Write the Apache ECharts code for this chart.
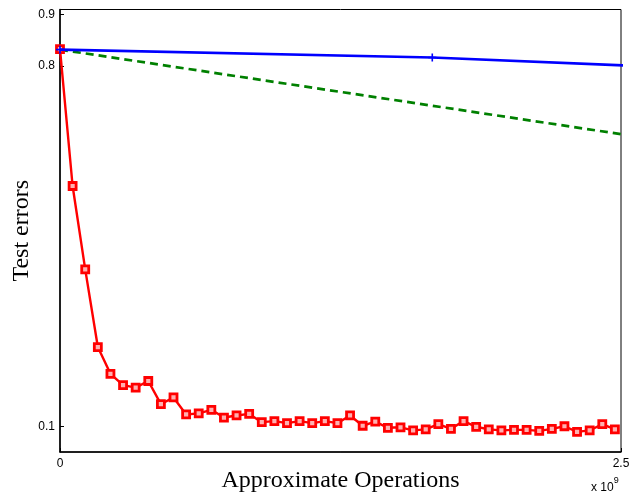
<!DOCTYPE html>
<html>
<head>
<meta charset="utf-8">
<script src="https://cdn.jsdelivr.net/npm/echarts@6/dist/echarts.min.js"></script>
<style>html,body{margin:0;padding:0;background:#fff}#c{width:629px;height:495px}</style>
</head>
<body>
<div id="c"></div>
<script>
// x in units of 1e9 operations
const redX = [0, 0.0562, 0.1124, 0.1686, 0.2248, 0.2810, 0.3372, 0.3934, 0.4496, 0.5058,
  0.5620, 0.6182, 0.6744, 0.7306, 0.7868, 0.8430, 0.8992, 0.9554, 1.0116, 1.0678,
  1.1240, 1.1802, 1.2364, 1.2926, 1.3488, 1.4050, 1.4612, 1.5174, 1.5736, 1.6298,
  1.6860, 1.7422, 1.7984, 1.8546, 1.9108, 1.9670, 2.0232, 2.0794, 2.1356, 2.1918,
  2.2480, 2.3042, 2.3604, 2.4166, 2.4728];
const redY = [0.833, 0.567, 0.405, 0.254, 0.202, 0.180, 0.175, 0.188, 0.143, 0.156,
  0.123, 0.125, 0.132, 0.117, 0.121, 0.124, 0.108, 0.110, 0.106, 0.110,
  0.106, 0.110, 0.106, 0.121, 0.101, 0.109, 0.097, 0.098, 0.092, 0.094,
  0.104, 0.095, 0.110, 0.099, 0.094, 0.092, 0.093, 0.093, 0.091, 0.095,
  0.100, 0.089, 0.092, 0.104, 0.094];
const blueX = [0, 1.659, 3.318];
const blueY = [0.832, 0.8168, 0.7866];
const greenX = [0, 2.5];
const greenY = [0.832, 0.6677];
const yTicks = [0.1, 0.8, 0.9];
const xTicks = [0, 2.5];

const zip = (xs, ys) => xs.map((x, i) => [x, ys[i]]);
const plusPath = 'path://M-0.2,-1H0.2V1H-0.2Z M-1,-0.2H1V0.2H-1Z';

const chart = echarts.init(document.getElementById('c'), null, {renderer: 'canvas'});
chart.setOption({
  animation: false,
  grid: {left: 60, right: 8, top: 9.5, bottom: 43, outerBoundsMode: 'none', containLabel: false,
    show: true, borderColor: '#000', borderWidth: 1, backgroundColor: '#fff'},
  xAxis: {
    type: 'value', min: 0, max: 2.5,
    name: 'Approximate Operations', nameLocation: 'middle', nameGap: 17, nameMoveOverlap: false,
    nameTextStyle: {fontFamily: 'Liberation Serif', fontSize: 24, color: '#000', verticalAlign: 'top'},
    axisLine: {show: true, onZero: false, lineStyle: {color: '#000', width: 1.5}},
    axisTick: {show: true, inside: true, length: 4, customValues: xTicks, lineStyle: {color: '#000'}},
    axisLabel: {customValues: xTicks, fontFamily: 'Liberation Sans', fontSize: 12, color: '#000', margin: 6,
      formatter: v => v === 0 ? '0' : String(v)},
    splitLine: {show: false}
  },
  yAxis: {
    type: 'value', min: 0.05, max: 0.91,
    name: 'Test errors', nameLocation: 'middle', nameGap: 26, nameRotate: 90, nameMoveOverlap: false,
    nameTextStyle: {fontFamily: 'Liberation Serif', fontSize: 24, color: '#000'},
    axisLine: {show: true, onZero: false, lineStyle: {color: '#000', width: 1.5}},
    axisTick: {show: true, inside: true, length: 4, customValues: yTicks, lineStyle: {color: '#000'}},
    axisLabel: {customValues: yTicks, fontFamily: 'Liberation Sans', fontSize: 12, color: '#000', margin: 5,
      formatter: v => String(v)},
    splitLine: {show: false}
  },
  graphic: [{
    type: 'text', left: 591, top: 476,
    style: {text: '{a|x 10}{b|9}', rich: {
      a: {fontFamily: 'Liberation Sans', fontSize: 12, fill: '#000', padding: [6, 0, 0, 0]},
      b: {fontFamily: 'Liberation Sans', fontSize: 9, fill: '#000', verticalAlign: 'top', padding: [0, 0, 8, 0]}
    }}
  }],
  series: [
    {type: 'line', data: zip(greenX, greenY), symbol: 'none', clip: true,
      lineStyle: {color: '#008000', width: 2.7, type: [8, 5]}, z: 2},
    {type: 'line', data: zip(blueX, blueY), symbol: plusPath, symbolSize: 8, clip: true,
      itemStyle: {color: '#0000ff'}, lineStyle: {color: '#0000ff', width: 2.6}, z: 4},
    {type: 'line', data: zip(redX, redY), symbol: 'rect', symbolSize: 7, clip: false,
      itemStyle: {color: '#ffb0b0', borderColor: '#ff0000', borderWidth: 2.8},
      lineStyle: {color: '#ff0000', width: 2.4}, z: 3}
  ]
});
</script>
</body>
</html>
